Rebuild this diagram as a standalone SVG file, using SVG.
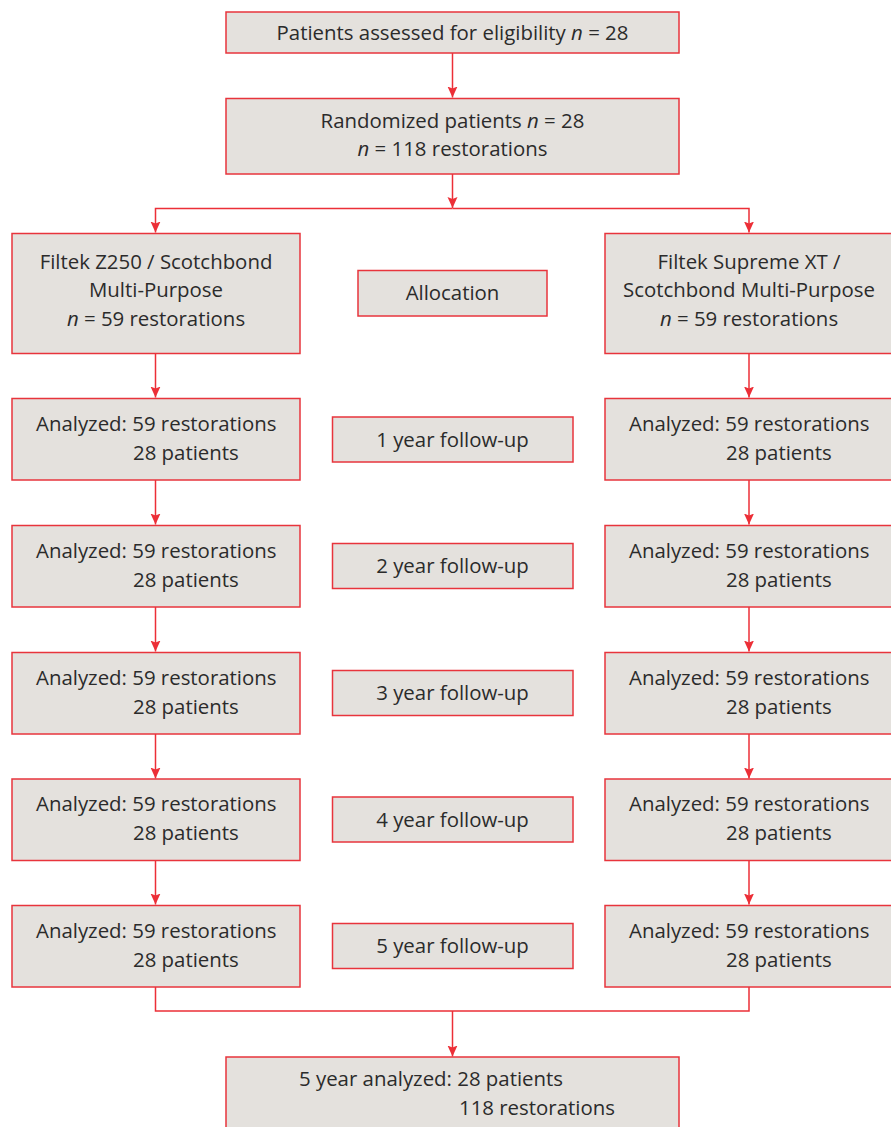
<svg xmlns="http://www.w3.org/2000/svg" width="891" height="1127" viewBox="0 0 891 1127">
<style>
.box{fill:#e4e1dd;stroke:#e8343c;stroke-width:1.5}
.t{font-family:"Open Sans","Liberation Sans",sans-serif;font-size:20.4px;fill:#2b2b2b}
.c{text-anchor:middle}
.i{font-style:italic}
.ln{fill:none;stroke:#ec2f37;stroke-width:1.5}
</style>
<defs>
<marker id="ah" markerUnits="userSpaceOnUse" markerWidth="12" markerHeight="11" refX="11" refY="5" orient="auto">
<path d="M0,0 L11,5 L0,10 L2,5 Z" fill="#ec2f37"/>
</marker>
</defs>
<rect width="891" height="1127" fill="#ffffff"/>
<g id="connectors">
<path class="ln" d="M452.5,53 V97.5" marker-end="url(#ah)"/>
<path class="ln" d="M452.5,174 V208" marker-end="url(#ah)"/>
<path class="ln" d="M452.5,208.5 H155.5 V232.5" marker-end="url(#ah)"/>
<path class="ln" d="M452.5,208.5 H749 V232.5" marker-end="url(#ah)"/>
<path class="ln" d="M155.5,354 V397.5" marker-end="url(#ah)"/>
<path class="ln" d="M155.5,480 V524.5" marker-end="url(#ah)"/>
<path class="ln" d="M155.5,607 V651.5" marker-end="url(#ah)"/>
<path class="ln" d="M155.5,734 V778.5" marker-end="url(#ah)"/>
<path class="ln" d="M155.5,861 V904.5" marker-end="url(#ah)"/>
<path class="ln" d="M749,354 V397.5" marker-end="url(#ah)"/>
<path class="ln" d="M749,480 V524.5" marker-end="url(#ah)"/>
<path class="ln" d="M749,607 V651.5" marker-end="url(#ah)"/>
<path class="ln" d="M749,734 V778.5" marker-end="url(#ah)"/>
<path class="ln" d="M749,861 V904.5" marker-end="url(#ah)"/>
<path class="ln" d="M155.5,987 V1011 H749 V987"/>
<path class="ln" d="M452.5,1011 V1056.5" marker-end="url(#ah)"/>
</g>
<g id="assessed">
<rect class="box" x="226" y="12" width="453" height="41"/>
<text class="t c" x="452.5" y="40">Patients assessed for eligibility <tspan class="i">n</tspan> = 28</text>
</g>
<g id="randomized">
<rect class="box" x="226" y="98.5" width="453" height="75.5"/>
<text class="t c" x="452.5" y="128">Randomized patients <tspan class="i">n</tspan> = 28</text>
<text class="t c" x="452.5" y="156"><tspan class="i">n</tspan> = 118 restorations</text>
</g>
<g id="group-z250">
<rect class="box" x="12" y="233.5" width="288" height="120"/>
<text class="t c" x="156" y="269">Filtek Z250 / Scotchbond</text>
<text class="t c" x="156" y="297">Multi-Purpose</text>
<text class="t c" x="156" y="326"><tspan class="i">n</tspan> = 59 restorations</text>
</g>
<g id="allocation">
<rect class="box" x="358" y="270.5" width="189" height="45.5"/>
<text class="t c" x="452.5" y="300">Allocation</text>
</g>
<g id="group-supreme">
<rect class="box" x="605" y="233.5" width="288" height="120"/>
<text class="t c" x="749" y="269">Filtek Supreme XT /</text>
<text class="t c" x="749" y="297">Scotchbond Multi-Purpose</text>
<text class="t c" x="749" y="326"><tspan class="i">n</tspan> = 59 restorations</text>
</g>
<g id="left-y1">
<rect class="box" x="12" y="398.5" width="288" height="81.5"/>
<text class="t" x="36" y="431">Analyzed: 59 restorations</text>
<text class="t" x="133" y="459.5">28 patients</text>
</g>
<g id="fu-y1">
<rect class="box" x="332.5" y="417" width="240.5" height="45"/>
<text class="t c" x="452.5" y="446.5">1 year follow-up</text>
</g>
<g id="right-y1">
<rect class="box" x="605" y="398.5" width="288" height="81.5"/>
<text class="t" x="629" y="431">Analyzed: 59 restorations</text>
<text class="t" x="726" y="459.5">28 patients</text>
</g>
<g id="left-y2">
<rect class="box" x="12" y="525.5" width="288" height="81.5"/>
<text class="t" x="36" y="558">Analyzed: 59 restorations</text>
<text class="t" x="133" y="586.5">28 patients</text>
</g>
<g id="fu-y2">
<rect class="box" x="332.5" y="543.5" width="240.5" height="45"/>
<text class="t c" x="452.5" y="573">2 year follow-up</text>
</g>
<g id="right-y2">
<rect class="box" x="605" y="525.5" width="288" height="81.5"/>
<text class="t" x="629" y="558">Analyzed: 59 restorations</text>
<text class="t" x="726" y="586.5">28 patients</text>
</g>
<g id="left-y3">
<rect class="box" x="12" y="652.5" width="288" height="81.5"/>
<text class="t" x="36" y="685">Analyzed: 59 restorations</text>
<text class="t" x="133" y="713.5">28 patients</text>
</g>
<g id="fu-y3">
<rect class="box" x="332.5" y="670.5" width="240.5" height="45"/>
<text class="t c" x="452.5" y="700">3 year follow-up</text>
</g>
<g id="right-y3">
<rect class="box" x="605" y="652.5" width="288" height="81.5"/>
<text class="t" x="629" y="685">Analyzed: 59 restorations</text>
<text class="t" x="726" y="713.5">28 patients</text>
</g>
<g id="left-y4">
<rect class="box" x="12" y="779" width="288" height="81.5"/>
<text class="t" x="36" y="811">Analyzed: 59 restorations</text>
<text class="t" x="133" y="839.5">28 patients</text>
</g>
<g id="fu-y4">
<rect class="box" x="332.5" y="797" width="240.5" height="45"/>
<text class="t c" x="452.5" y="826.5">4 year follow-up</text>
</g>
<g id="right-y4">
<rect class="box" x="605" y="779" width="288" height="81.5"/>
<text class="t" x="629" y="811">Analyzed: 59 restorations</text>
<text class="t" x="726" y="839.5">28 patients</text>
</g>
<g id="left-y5">
<rect class="box" x="12" y="905.5" width="288" height="81.5"/>
<text class="t" x="36" y="938">Analyzed: 59 restorations</text>
<text class="t" x="133" y="966.5">28 patients</text>
</g>
<g id="fu-y5">
<rect class="box" x="332.5" y="923.5" width="240.5" height="45"/>
<text class="t c" x="452.5" y="953">5 year follow-up</text>
</g>
<g id="right-y5">
<rect class="box" x="605" y="905.5" width="288" height="81.5"/>
<text class="t" x="629" y="938">Analyzed: 59 restorations</text>
<text class="t" x="726" y="966.5">28 patients</text>
</g>
<g id="final">
<rect class="box" x="226" y="1057" width="453" height="80"/>
<text class="t" x="299" y="1086">5 year analyzed: 28 patients</text>
<text class="t" x="459" y="1114.5">118 restorations</text>
</g>
</svg>
